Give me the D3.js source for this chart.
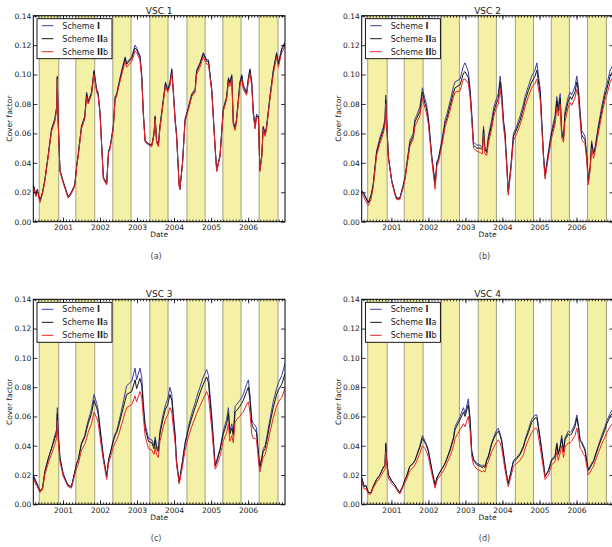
<!DOCTYPE html>
<html>
<head>
<meta charset="utf-8">
<script src="https://cdn.jsdelivr.net/npm/d3@7"></script>
<style>
  body { margin: 0; background: #fff; }
  text { font-family: "DejaVu Sans", sans-serif; }
</style>
</head>
<body>
<svg id="fig" width="612" height="547"></svg>
<script>
// sample dates shared by every series
const dates = [
  "2000-03-14","2000-04-09","2000-04-23","2000-05-19","2000-06-13","2000-07-05","2000-08-08","2000-09-09","2000-10-12","2000-10-30","2000-11-06","2000-11-14","2000-12-02",
  "2001-01-04","2001-02-06","2001-02-21","2001-03-25","2001-04-27","2001-05-16","2001-05-30","2001-07-02","2001-08-04","2001-08-22","2001-09-06","2001-10-09","2001-11-03","2001-11-29","2001-12-13",
  "2002-01-01","2002-02-03","2002-03-08","2002-03-26","2002-04-09","2002-05-12","2002-05-30","2002-06-14","2002-07-02","2002-08-04","2002-09-06","2002-09-21","2002-11-10","2002-12-13","2002-12-28",
  "2003-01-30","2003-02-17","2003-03-04","2003-03-22","2003-04-24","2003-05-27","2003-06-18","2003-06-29","2003-07-13","2003-07-31","2003-08-15","2003-09-17","2003-10-09","2003-10-31","2003-11-22","2003-12-10","2003-12-25",
  "2004-01-12","2004-01-26","2004-02-21","2004-02-28","2004-03-25","2004-04-19","2004-05-22","2004-06-24","2004-07-27","2004-08-11","2004-09-13","2004-10-16","2004-11-18","2004-12-06",
  "2005-01-08","2005-02-10","2005-02-25","2005-03-30","2005-05-01","2005-06-03","2005-06-21","2005-07-05","2005-07-24","2005-08-08","2005-08-26","2005-09-09","2005-10-12","2005-10-31","2005-11-14","2005-12-17",
  "2006-01-04","2006-01-19","2006-02-06","2006-02-21","2006-03-11","2006-03-25","2006-04-13","2006-04-27","2006-05-16","2006-05-30","2006-06-18","2006-07-02","2006-08-04","2006-09-06","2006-10-09","2006-10-27","2006-11-29","2006-12-31"
];

// VSC 1
const vsc1SchemeI = [
  .025,.018,.022,.014,.020,.028,.045,.063,.070,.078,.099,.070,.035,
  .027,.020,.017,.020,.025,.038,.045,.065,.072,.088,.082,.088,.103,.090,.088,
  .075,.030,.026,.048,.050,.065,.085,.087,.093,.103,.112,.108,.112,.120,.118,
  .113,.100,.075,.055,.053,.052,.060,.072,.055,.052,.065,.083,.095,.090,.095,.104,.090,
  .070,.060,.025,.022,.040,.070,.078,.087,.090,.103,.108,.115,.110,.110,
  .090,.050,.035,.045,.077,.085,.098,.095,.100,.068,.064,.070,.095,.100,.093,.088,
  .098,.104,.095,.075,.065,.073,.072,.035,.045,.065,.060,.065,.085,.103,.115,.108,.118,.122
];
const vsc1SchemeIIa = [
  .025,.018,.022,.014,.020,.028,.045,.062,.069,.077,.098,.069,.035,
  .027,.020,.017,.020,.025,.038,.045,.064,.071,.087,.081,.087,.102,.089,.087,
  .074,.030,.026,.048,.050,.064,.084,.086,.092,.102,.111,.107,.111,.118,.117,
  .112,.099,.074,.055,.053,.052,.060,.071,.055,.052,.064,.082,.094,.089,.094,.103,.089,
  .069,.059,.025,.022,.040,.069,.077,.086,.089,.102,.107,.114,.109,.109,
  .089,.050,.035,.045,.076,.084,.097,.094,.099,.067,.063,.069,.094,.099,.092,.087,
  .097,.103,.094,.074,.064,.072,.071,.035,.045,.064,.059,.064,.084,.102,.114,.107,.117,.121
];
const vsc1SchemeIIb = [
  .024,.017,.021,.013,.019,.027,.044,.061,.068,.076,.097,.068,.034,
  .026,.019,.016,.019,.024,.037,.044,.063,.070,.085,.080,.086,.100,.088,.086,
  .073,.029,.025,.047,.049,.063,.083,.085,.091,.100,.109,.105,.109,.116,.115,
  .110,.097,.073,.054,.052,.051,.059,.070,.054,.051,.063,.081,.092,.088,.092,.101,.088,
  .068,.058,.024,.022,.039,.068,.076,.085,.088,.100,.105,.112,.107,.107,
  .088,.049,.034,.044,.075,.083,.095,.092,.097,.066,.062,.068,.092,.097,.090,.086,
  .095,.101,.092,.073,.063,.071,.070,.034,.044,.063,.058,.063,.083,.100,.112,.105,.115,.119
];

// VSC 2
const vsc2SchemeI = [
  .021,.019,.017,.013,.018,.025,.048,.057,.064,.070,.086,.072,.045,
  .028,.019,.016,.016,.025,.031,.038,.055,.060,.070,.072,.078,.091,.083,.080,
  .071,.045,.026,.041,.043,.055,.062,.069,.073,.082,.092,.095,.097,.106,.108,
  .102,.090,.075,.054,.052,.052,.050,.065,.050,.048,.058,.069,.078,.083,.087,.099,.089,
  .069,.062,.030,.020,.038,.060,.065,.072,.080,.085,.092,.099,.103,.108,
  .090,.045,.032,.048,.062,.072,.085,.078,.087,.062,.058,.075,.085,.088,.086,.092,
  .099,.092,.075,.062,.060,.058,.045,.028,.038,.055,.047,.050,.065,.078,.089,.093,.103,.107
];
const vsc2SchemeIIa = [
  .021,.018,.016,.013,.017,.025,.047,.055,.062,.068,.083,.070,.044,
  .028,.019,.016,.016,.024,.030,.037,.053,.058,.068,.070,.075,.088,.080,.077,
  .069,.044,.025,.040,.042,.053,.060,.067,.070,.079,.088,.091,.093,.101,.102,
  .098,.087,.072,.052,.050,.050,.049,.063,.049,.047,.056,.066,.075,.080,.084,.095,.086,
  .067,.060,.029,.020,.037,.058,.063,.069,.077,.082,.089,.095,.099,.103,
  .087,.044,.031,.046,.060,.069,.082,.075,.084,.060,.056,.072,.082,.085,.083,.088,
  .095,.089,.072,.059,.057,.056,.044,.027,.037,.053,.046,.049,.063,.075,.086,.090,.099,.103
];
const vsc2SchemeIIb = [
  .019,.016,.014,.011,.015,.023,.045,.053,.060,.066,.080,.068,.043,
  .027,.018,.015,.015,.023,.029,.036,.051,.056,.065,.067,.072,.084,.077,.074,
  .066,.042,.022,.038,.040,.051,.058,.064,.068,.076,.085,.088,.089,.097,.097,
  .094,.084,.070,.050,.048,.047,.046,.060,.046,.045,.053,.063,.072,.077,.080,.090,.082,
  .064,.057,.027,.018,.035,.055,.060,.066,.074,.078,.085,.091,.094,.097,
  .083,.042,.029,.044,.057,.066,.078,.072,.080,.057,.054,.068,.078,.081,.079,.084,
  .090,.085,.069,.056,.054,.053,.041,.025,.035,.050,.043,.047,.060,.072,.083,.086,.095,.099
];

// VSC 3
const vsc3SchemeI = [
  .020,.016,.014,.009,.011,.022,.031,.038,.047,.051,.066,.050,.032,
  .021,.015,.013,.012,.022,.028,.030,.042,.047,.053,.057,.065,.075,.069,.065,
  .053,.033,.019,.030,.034,.044,.048,.050,.055,.065,.076,.081,.084,.093,.085,
  .093,.087,.070,.055,.045,.044,.040,.046,.040,.037,.050,.062,.068,.072,.080,.075,.062,
  .048,.030,.015,.018,.030,.042,.053,.062,.069,.073,.080,.087,.092,.088,
  .060,.027,.030,.038,.050,.058,.066,.050,.055,.049,.067,.068,.071,.073,.075,.082,
  .085,.075,.058,.055,.054,.052,.035,.026,.032,.038,.040,.045,.058,.070,.079,.083,.088,.096
];
const vsc3SchemeIIa = [
  .019,.015,.013,.009,.011,.022,.031,.038,.045,.049,.062,.048,.031,
  .020,.015,.013,.012,.022,.028,.030,.041,.046,.051,.055,.062,.071,.066,.062,
  .051,.032,.019,.030,.034,.043,.047,.049,.053,.062,.071,.075,.077,.085,.079,
  .086,.081,.066,.052,.043,.042,.038,.044,.038,.036,.048,.059,.065,.068,.075,.071,.059,
  .046,.029,.015,.018,.029,.041,.051,.059,.066,.069,.076,.082,.087,.083,
  .057,.026,.029,.037,.048,.055,.062,.048,.052,.047,.063,.064,.067,.069,.071,.077,
  .080,.071,.055,.052,.051,.049,.034,.025,.031,.036,.038,.043,.055,.066,.075,.078,.082,.089
];
const vsc3SchemeIIb = [
  .018,.013,.012,.008,.010,.020,.028,.034,.041,.045,.057,.044,.029,
  .019,.014,.012,.011,.020,.025,.027,.037,.041,.045,.049,.055,.063,.059,.056,
  .046,.030,.017,.028,.031,.039,.042,.044,.047,.055,.063,.066,.068,.074,.070,
  .077,.073,.060,.047,.038,.037,.034,.039,.034,.032,.043,.053,.058,.061,.066,.063,.053,
  .042,.027,.014,.016,.026,.037,.046,.053,.059,.062,.067,.072,.077,.074,
  .051,.024,.026,.033,.043,.049,.055,.043,.047,.042,.056,.058,.060,.062,.063,.068,
  .070,.063,.048,.045,.045,.044,.030,.022,.028,.032,.034,.038,.049,.059,.067,.070,.073,.079
];

// VSC 4
const vsc4SchemeI = [
  .018,.012,.013,.008,.008,.012,.017,.020,.025,.027,.042,.032,.020,
  .016,.013,.011,.008,.013,.017,.019,.026,.028,.030,.033,.040,.047,.043,.041,
  .037,.024,.013,.018,.020,.024,.026,.028,.031,.038,.046,.053,.060,.066,.062,
  .072,.058,.037,.031,.028,.027,.026,.027,.026,.031,.033,.042,.046,.050,.052,.048,.044,
  .035,.028,.016,.014,.022,.030,.032,.035,.040,.044,.051,.058,.061,.061,
  .045,.028,.019,.023,.031,.033,.042,.035,.040,.047,.037,.045,.050,.049,.050,.055,
  .061,.055,.044,.043,.040,.038,.030,.024,.026,.028,.030,.033,.040,.047,.053,.057,.062,.066
];
const vsc4SchemeIIa = [
  .018,.012,.013,.008,.008,.012,.017,.020,.025,.027,.041,.031,.020,
  .016,.013,.011,.008,.013,.017,.019,.026,.028,.030,.033,.039,.045,.042,.040,
  .036,.024,.013,.018,.020,.024,.026,.028,.031,.037,.045,.051,.058,.063,.060,
  .068,.056,.036,.030,.027,.026,.025,.026,.025,.030,.032,.041,.045,.048,.050,.047,.043,
  .034,.027,.016,.014,.022,.029,.031,.034,.039,.043,.049,.056,.059,.059,
  .044,.027,.019,.023,.030,.032,.041,.034,.039,.045,.036,.044,.048,.047,.048,.053,
  .059,.053,.043,.042,.039,.037,.029,.023,.025,.027,.029,.032,.039,.045,.051,.055,.060,.063
];
const vsc4SchemeIIb = [
  .016,.010,.011,.007,.007,.011,.015,.018,.022,.024,.036,.028,.018,
  .014,.012,.010,.007,.012,.015,.017,.023,.025,.027,.029,.035,.040,.038,.036,
  .032,.021,.011,.016,.018,.021,.023,.025,.028,.033,.040,.045,.051,.055,.053,
  .060,.050,.033,.027,.024,.023,.022,.023,.022,.027,.029,.036,.039,.042,.044,.042,.038,
  .030,.024,.014,.012,.019,.026,.028,.030,.034,.038,.044,.049,.052,.052,
  .039,.024,.017,.020,.027,.029,.036,.030,.035,.040,.032,.039,.042,.042,.043,.047,
  .052,.047,.038,.037,.034,.033,.026,.020,.022,.024,.026,.029,.035,.041,.046,.049,.053,.056
];

// growing seasons (yellow bands)
const seasonStart = ["2000-05-12","2001-05-08","2002-05-08","2003-05-08","2004-05-08","2005-04-27","2006-04-20"];
const seasonEnd   = ["2000-11-20","2001-11-10","2002-11-03","2003-11-03","2004-11-03","2005-10-23","2006-10-23"];

const yTicks = [0, 0.02, 0.04, 0.06, 0.08, 0.10, 0.12, 0.14];
const schemeNames = [["I", ""], ["II", "a"], ["II", "b"]];
const schemeColors = ["#3c3ca6", "#151515", "#e8262e"];

const parse = d3.timeParse("%Y-%m-%d");
const dateObjs = dates.map(parse);

const panels = [
  { title: "VSC 1", caption: "(a)", left: 33.3,  top: 15.7,  h: 206, series: [vsc1SchemeI, vsc1SchemeIIa, vsc1SchemeIIb] },
  { title: "VSC 2", caption: "(b)", left: 361.7, top: 15.7,  h: 206, series: [vsc2SchemeI, vsc2SchemeIIa, vsc2SchemeIIb] },
  { title: "VSC 3", caption: "(c)", left: 33.3,  top: 299.3, h: 205, series: [vsc3SchemeI, vsc3SchemeIIa, vsc3SchemeIIb] },
  { title: "VSC 4", caption: "(d)", left: 361.7, top: 299.3, h: 205, series: [vsc4SchemeI, vsc4SchemeIIa, vsc4SchemeIIb] }
];
const W = 251.7;

const svg = d3.select("#fig");

panels.forEach((p, pi) => drawPanel(p, pi));

function drawPanel(p, pi) {
  const h = p.h;
  const g = svg.append("g").attr("transform", `translate(${p.left},${p.top})`);

  const x = d3.scaleTime().domain(d3.extent(dateObjs)).range([0, W]);
  const y = d3.scaleLinear().domain([0, 0.14]).range([h, 0]);

  const clipId = "clip" + pi;
  g.append("clipPath").attr("id", clipId)
    .append("rect").attr("width", W).attr("height", h);
  const plot = g.append("g").attr("clip-path", `url(#${clipId})`);

  // yellow bands
  plot.selectAll(".season").data(seasonStart).join("rect")
    .attr("class", "season")
    .attr("x", d => x(parse(d)))
    .attr("width", (d, i) => x(parse(seasonEnd[i])) - x(parse(d)))
    .attr("y", 0).attr("height", h)
    .attr("fill", "#f4f0a6");
  plot.selectAll(".edge").data(seasonStart.concat(seasonEnd)).join("line")
    .attr("class", "edge")
    .attr("x1", d => x(parse(d))).attr("x2", d => x(parse(d)))
    .attr("y1", 0).attr("y2", h)
    .attr("stroke", "#a3a27e").attr("stroke-width", 1);

  // series, red drawn last
  const line = d3.line().x((d, i) => x(dateObjs[i])).y(d => y(d));
  p.series.forEach((s, si) => {
    plot.append("path").datum(s)
      .attr("d", line)
      .attr("fill", "none")
      .attr("stroke", schemeColors[si])
      .attr("stroke-width", 1)
      .attr("stroke-linejoin", "round");
  });

  // axes, ticks pointing inward on all four sides
  const styleAxis = sel => {
    sel.select(".domain").remove();
    sel.selectAll("line").attr("stroke", "#000").attr("stroke-width", 0.8);
    sel.selectAll("text").attr("font-family", "DejaVu Sans").attr("font-size", 7.5).attr("fill", "#222");
  };
  g.append("g").attr("transform", `translate(0,${h})`)
    .call(d3.axisBottom(x).ticks(d3.timeYear.every(1)).tickSize(-4).tickPadding(3).tickFormat(d3.timeFormat("%Y")))
    .call(styleAxis);
  g.append("g").attr("transform", `translate(0,${h})`)
    .call(d3.axisBottom(x).ticks(d3.timeMonth.every(1)).tickSize(-2).tickFormat(""))
    .call(styleAxis);
  g.append("g")
    .call(d3.axisTop(x).ticks(d3.timeYear.every(1)).tickSize(-4).tickFormat(""))
    .call(styleAxis);
  g.append("g")
    .call(d3.axisTop(x).ticks(d3.timeMonth.every(1)).tickSize(-2).tickFormat(""))
    .call(styleAxis);
  g.append("g")
    .call(d3.axisLeft(y).tickValues(yTicks).tickSize(-4).tickPadding(2).tickFormat(d3.format(".2f")))
    .call(styleAxis);
  g.append("g").attr("transform", `translate(${W},0)`)
    .call(d3.axisRight(y).tickValues(yTicks).tickSize(-4).tickFormat(""))
    .call(styleAxis);

  g.append("rect").attr("width", W).attr("height", h)
    .attr("fill", "none").attr("stroke", "#000").attr("stroke-width", 1);

  // legend
  const lg = g.append("g").attr("transform", "translate(3.7,3)");
  lg.append("rect").attr("width", 75).attr("height", 40)
    .attr("fill", "#fff").attr("stroke", "#000").attr("stroke-width", 0.9);
  schemeNames.forEach((nm, i) => {
    const ry = 7 + i * 13;
    lg.append("line").attr("x1", 4.7).attr("x2", 16.3).attr("y1", ry).attr("y2", ry)
      .attr("stroke", schemeColors[i]).attr("stroke-width", 1);
    const t = lg.append("text").attr("x", 25.3).attr("y", ry + 3)
      .attr("font-size", 8).attr("fill", "#222");
    t.append("tspan").text("Scheme ");
    t.append("tspan").attr("font-weight", "bold").text(nm[0]);
    if (nm[1]) t.append("tspan").text(nm[1]);
  });

  // titles and labels
  g.append("text").attr("x", W / 2).attr("y", -2).attr("text-anchor", "middle")
    .attr("font-size", 9).attr("fill", "#222").text(p.title);
  g.append("text").attr("x", W / 2).attr("y", h + 15.5).attr("text-anchor", "middle")
    .attr("font-size", 7.5).attr("fill", "#222").text("Date");
  g.append("text").attr("transform", `translate(-21,${h / 2}) rotate(-90)`)
    .attr("text-anchor", "middle").attr("font-size", 7.5).attr("fill", "#222").text("Cover factor");
  g.append("text").attr("x", W / 2 - 3).attr("y", h + 37).attr("text-anchor", "middle")
    .attr("font-family", "Liberation Serif").attr("font-size", 8).attr("fill", "#444").text(p.caption);
}
</script>
</body>
</html>
